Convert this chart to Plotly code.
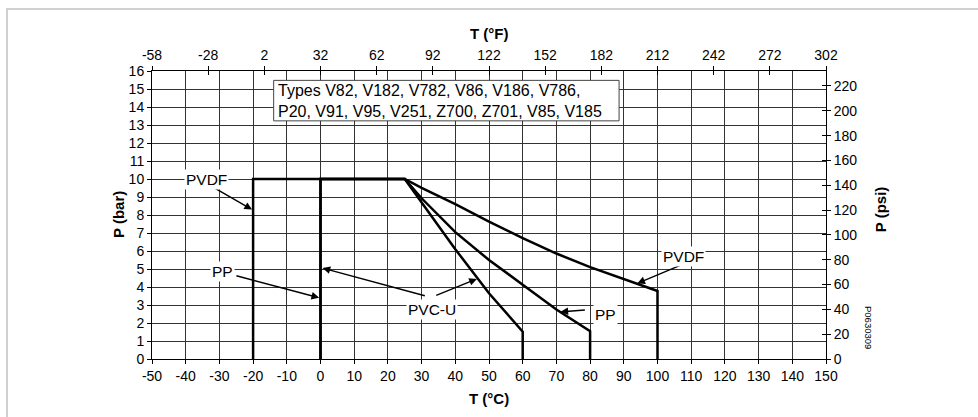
import plotly.graph_objects as go

# ---- data ----
pvdf_T = [-20, -20, 25, 30, 40, 50, 60, 70, 80, 90, 100, 100]
pvdf_P = [0, 10, 10, 9.51, 8.6, 7.63, 6.72, 5.86, 5.1, 4.43, 3.78, 0]
pp_T = [0, 0, 25, 30, 40, 50, 60, 70, 80, 80]
pp_P = [0, 10, 10, 8.93, 7.05, 5.5, 4.13, 2.75, 1.55, 0]
pvcu_T = [0, 0, 25, 30, 40, 50, 60, 60]
pvcu_P = [0, 10, 10, 8.68, 6.1, 3.65, 1.52, 0]

x_ticks_C = list(range(-50, 151, 10))
x_ticklabels_C = ["-50", "-40", "-30", "-20", "-10", "0", "10", "20", "30", "40", "50",
                  "60", "70", "80", "90", "100", "110", "120", "130", "140", "150"]
x_ticks_F = list(range(-58, 303, 30))
x_ticklabels_F = ["-58", "-28", "2", "32", "62", "92", "122", "152", "182", "212",
                  "242", "272", "302"]
y_ticks_bar = list(range(0, 17))
y_ticks_psi = list(range(0, 221, 20))

types_text = "Types V82, V182, V782, V86, V186, V786,<br>P20, V91, V95, V251, Z700, Z701, V85, V185"
code_text = "P0630309"

# label positions (T °C, P bar) and arrows (tail -> head)
labels = [
    ("PVDF", -33.8, 9.96),
    ("PP", -29.1, 4.87),
    ("PVC-U", 33.0, 2.77),
    ("PP", 84.6, 2.49),
    ("PVDF", 107.6, 5.7),
]
arrows = [
    (-33.5, 9.72, -20.3, 8.3),
    (-25.4, 4.65, -0.4, 3.4),
    (31.4, 3.49, 0.6, 5.05),
    (33.9, 3.5, 46.4, 4.45),
    (78.9, 2.73, 71.2, 2.62),
    (108.6, 5.35, 94.0, 4.2),
]

FONT = "Liberation Sans, Arial, sans-serif"
PSI_PER_BAR = 14.5038

fig = go.Figure()
line_style = dict(color="#000000", width=2.5)
for T, P in [(pvdf_T, pvdf_P), (pp_T, pp_P), (pvcu_T, pvcu_P)]:
    fig.add_trace(go.Scatter(x=T, y=P, mode="lines", line=line_style,
                             showlegend=False, hoverinfo="skip"))
# dummy traces to register extra axes
for xa, ya in [("x2", "y"), ("x3", "y"), ("x", "y2"), ("x", "y3")]:
    fig.add_trace(go.Scatter(x=[None], y=[None], xaxis=xa, yaxis=ya,
                             showlegend=False, hoverinfo="skip"))

tickfont = dict(family=FONT, size=14, color="#000")
grid = "#333333"
common = dict(showline=True, linecolor="#000", linewidth=1, tickcolor="#000",
              ticklen=4, tickwidth=1, tickfont=tickfont, zeroline=False)

fig.update_layout(
    width=978, height=417,
    margin=dict(l=152, r=152, t=71, b=58),
    paper_bgcolor="white", plot_bgcolor="white",
    font=dict(family=FONT, color="#000"),
    xaxis=dict(range=[-50, 150], tickvals=x_ticks_C, ticktext=x_ticklabels_C,
               ticks="outside", showgrid=True, gridcolor=grid, gridwidth=1, **common),
    yaxis=dict(range=[0, 16], tickvals=y_ticks_bar, ticks="outside",
               showgrid=True, gridcolor=grid, gridwidth=1, **common),
    xaxis2=dict(range=[-58, 302], tickvals=x_ticks_F, ticktext=x_ticklabels_F,
                ticks="outside", overlaying="x", side="top", anchor="y",
                showgrid=False, **common),
    xaxis3=dict(range=[-58, 302], tickvals=x_ticks_F, ticks="inside",
                overlaying="x", side="top", anchor="y", showgrid=False,
                showticklabels=False, **common),
    yaxis2=dict(range=[0, 16 * PSI_PER_BAR], tickvals=y_ticks_psi, ticks="outside",
                overlaying="y", side="right", anchor="x", showgrid=False, **common),
    yaxis3=dict(range=[0, 16 * PSI_PER_BAR], tickvals=y_ticks_psi, ticks="inside",
                overlaying="y", side="right", anchor="x", showgrid=False,
                showticklabels=False, **common),
)

PW, PH = 674, 288
# outer light frame (top + left)
fig.add_shape(type="line", xref="paper", yref="paper", x0=-146/PW, x1=1.4,
              y0=1 + 62/PH, y1=1 + 62/PH, line=dict(color="#d0d0d0", width=2))
fig.add_shape(type="line", xref="paper", yref="paper", x0=-145/PW, x1=-145/PW,
              y0=-0.3, y1=1 + 62/PH, line=dict(color="#d0d0d0", width=2))

# types box
fig.add_shape(type="rect", xref="x", yref="y", x0=-13.9, x1=88.6, y0=13.23, y1=15.48,
              fillcolor="white", line=dict(color="#444", width=1), layer="above")
fig.add_annotation(x=-13.2, y=14.36, xref="x", yref="y", text=types_text,
                   showarrow=False, xanchor="left", yanchor="middle", align="left",
                   font=dict(family=FONT, size=16, color="#000"))

# arrows
for tx, ty, hx, hy in arrows:
    fig.add_annotation(x=hx, y=hy, ax=tx, ay=ty, xref="x", yref="y", axref="x", ayref="y",
                       text="", showarrow=True, arrowhead=2, arrowsize=1.1,
                       arrowwidth=1.4, arrowcolor="#000", standoff=0, startstandoff=0)
# labels
for txt, lx, ly in labels:
    fig.add_annotation(x=lx, y=ly, xref="x", yref="y", text=txt, showarrow=False,
                       bgcolor="white", borderpad=1,
                       font=dict(family=FONT, size=15.5, color="#000"))

# axis titles
title_font = dict(family=FONT, size=15, color="#000")
fig.add_annotation(x=0.5, y=1 + 38/PH, xref="paper", yref="paper", text="<b>T (°F)</b>",
                   showarrow=False, font=title_font, yanchor="middle")
fig.add_annotation(x=0.5, y=-39/PH, xref="paper", yref="paper", text="<b>T (°C)</b>",
                   showarrow=False, font=title_font, yanchor="middle")
fig.add_annotation(x=-34/PW, y=0.5, xref="paper", yref="paper", text="<b>P (bar)</b>",
                   showarrow=False, font=title_font, textangle=-90, xanchor="center")
fig.add_annotation(x=1 + 54/PW, y=0.52, xref="paper", yref="paper", text="<b>P (psi)</b>",
                   showarrow=False, font=title_font, textangle=-90, xanchor="center")
fig.add_annotation(x=1 + 43/PW, y=32/PH, xref="paper", yref="paper", text=code_text,
                   showarrow=False, font=dict(family=FONT, size=9.5, color="#000"),
                   textangle=90, xanchor="center", yanchor="middle")

fig.write_html("out.html", post_script="document.body.style.margin='0px';",
               config={"displayModeBar": False})
